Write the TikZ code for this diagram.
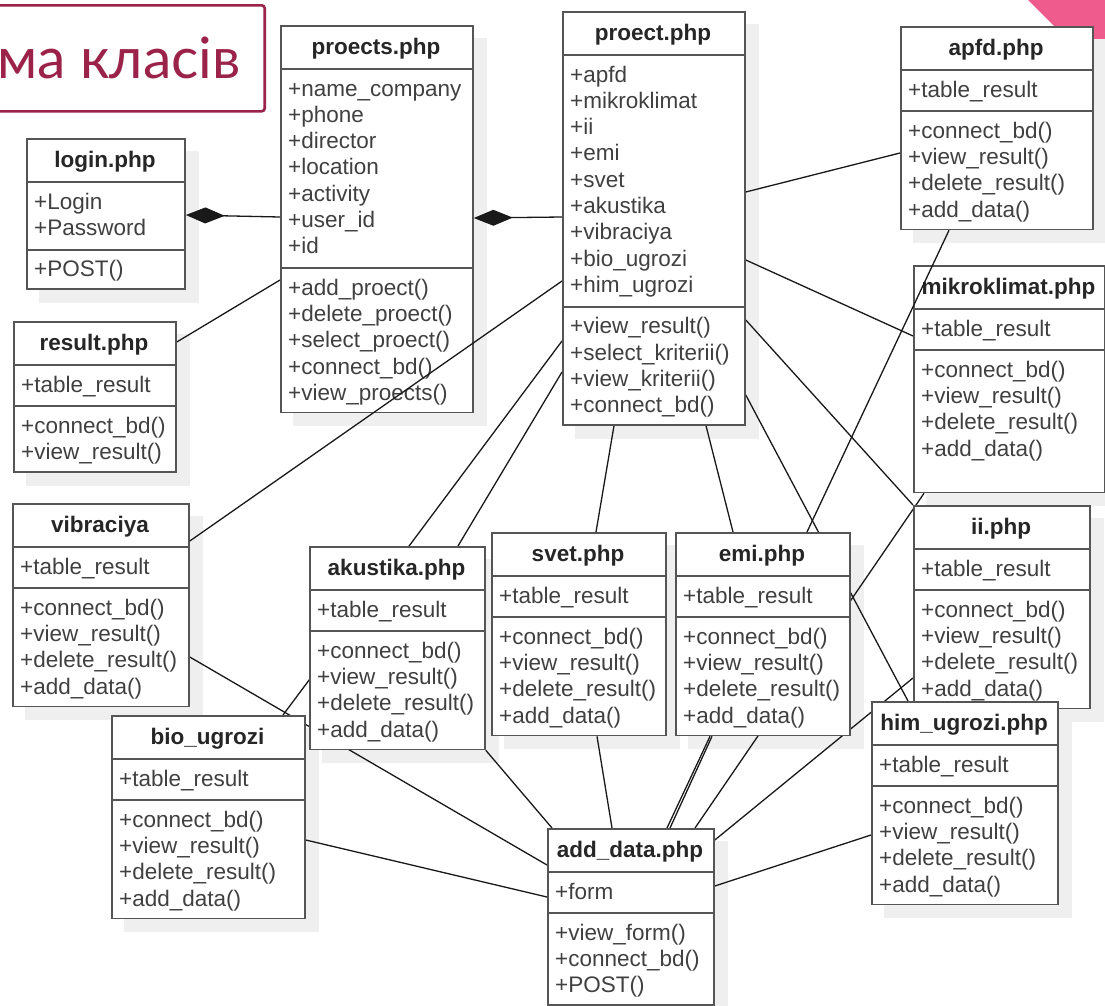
\documentclass[tikz,border=0pt]{standalone}
\usepackage{fontspec}
\setmainfont{Liberation Sans}
\newfontfamily\titlefont{Lato}
\usetikzlibrary{arrows.meta,calc}
\pgfdeclarelayer{back}
\pgfdeclarelayer{links}
\pgfsetlayers{back,links,main}
\definecolor{maroon}{HTML}{9B2349}
\definecolor{pinkc}{HTML}{EF5B8C}
\definecolor{boxc}{HTML}{555555}
\definecolor{txtc}{HTML}{404040}
\definecolor{shadowc}{HTML}{EFEFEF}
\tikzset{
  umlbox/.style={draw=boxc,line width=1.8pt,fill=white,inner sep=0pt},
  umlsep/.style={draw=boxc,line width=1.8pt},
  umltitle/.style={font=\bfseries\fontsize{22.5}{26}\selectfont,anchor=base,inner sep=0pt,text=black!85},
  umltext/.style={font=\fontsize{22.5}{26}\selectfont,anchor=base west,inner sep=0pt,text=txtc},
  link/.style={draw=black!90,line width=1.3pt},
  comp/.style={{Diamond[length=39pt,width=16pt]}-}
}
\newcommand\umlextra{0}
\newcommand\umlcls[9]{%
  \pgfmathsetmacro\sepA{#3+44}%
  \pgfmathsetmacro\sepB{\sepA+15+26.3*#6}%
  \pgfmathsetmacro\bot{\sepB+12+26.3*#8+\umlextra}%
  \pgfmathsetmacro\hh{\bot-#3}%
  \node[umlbox,minimum width=#4pt,minimum height=\hh pt,anchor=north west] (#1) at (#2,#3) {};
  \begin{pgfonlayer}{back}
    \fill[shadowc] ($(#1.north west)+(13,13)$) rectangle ($(#1.south east)+(13,13)$);
  \end{pgfonlayer}
  \draw[umlsep] (#2,\sepA) -- ++(#4,0);
  \draw[umlsep] (#2,\sepB) -- ++(#4,0);
  \node[umltitle] (#1-title) at ({#2+#4/2},{#3+29}) {#5};
  \foreach \itm [count=\i] in {#7} {\node[umltext] (#1-a\i) at ({#2+8},{\sepA+27+26.3*(\i-1)}) {\itm};}
  \foreach \itm [count=\i] in {#9} {\node[umltext] (#1-m\i) at ({#2+8},{\sepB+27+26.3*(\i-1)}) {\itm};}
}
\begin{document}
\begin{tikzpicture}[x=1pt,y=-1pt]
\useasboundingbox (0,0) rectangle (1105,1005);
\begin{pgfonlayer}{back}
  \fill[white] (0,0) rectangle (1105,1005);
  \fill[pinkc] (1028,0) -- (1105,0) -- (1105,77) -- cycle;
\end{pgfonlayer}

% title
\node[draw=maroon,line width=2.6pt,fill=white,rounded corners=3pt,minimum width=286pt,minimum height=106pt,anchor=north east,inner sep=0pt] (titlebox) at (266,4) {};
\node[font=\titlefont\fontsize{57}{62}\selectfont,text=maroon,anchor=base west,inner sep=0pt] (titletext) at (-3,78) {ма класів};

% classes
\umlcls{login}{26}{138}{158}{login.php}{2}{+Login,+Password}{1}{+POST()}
\umlcls{result}{13}{321}{162}{result.php}{1}{+table\_result}{2}{+connect\_bd(),+view\_result()}
\umlcls{proects}{280}{25}{192}{proects.php}{7}{+name\_company,+phone,+director,+location,+activity,+user\_id,+id}{5}{+add\_proect(),+delete\_proect(),+select\_proect(),+connect\_bd(),+view\_proects()}
\umlcls{proect}{562}{11}{182}{proect.php}{9}{+apfd,+mikroklimat,+ii,+emi,+svet,+akustika,+vibraciya,+bio\_ugrozi,+him\_ugrozi}{4}{+view\_result(),+select\_kriterii(),+view\_kriterii(),+connect\_bd()}
\umlcls{apfd}{900}{26}{192}{apfd.php}{1}{+table\_result}{4}{+connect\_bd(),+view\_result(),+delete\_result(),+add\_data()}
\renewcommand\umlextra{24}
\umlcls{mikro}{913}{265}{191}{mikroklimat.php}{1}{+table\_result}{4}{+connect\_bd(),+view\_result(),+delete\_result(),+add\_data()}
\renewcommand\umlextra{0}
\umlcls{ii}{913}{505}{176}{ii.php}{1}{+table\_result}{4}{+connect\_bd(),+view\_result(),+delete\_result(),+add\_data()}
\umlcls{vib}{12}{503}{176}{vibraciya}{1}{+table\_result}{4}{+connect\_bd(),+view\_result(),+delete\_result(),+add\_data()}
\umlcls{ak}{309}{546}{175}{akustika.php}{1}{+table\_result}{4}{+connect\_bd(),+view\_result(),+delete\_result(),+add\_data()}
\umlcls{svet}{491}{532}{174}{svet.php}{1}{+table\_result}{4}{+connect\_bd(),+view\_result(),+delete\_result(),+add\_data()}
\umlcls{emi}{675}{532}{174}{emi.php}{1}{+table\_result}{4}{+connect\_bd(),+view\_result(),+delete\_result(),+add\_data()}
\umlcls{bio}{111}{715}{193}{bio\_ugrozi}{1}{+table\_result}{4}{+connect\_bd(),+view\_result(),+delete\_result(),+add\_data()}
\umlcls{him}{871}{701}{186}{him\_ugrozi.php}{1}{+table\_result}{4}{+connect\_bd(),+view\_result(),+delete\_result(),+add\_data()}
\umlcls{add}{547}{828}{166}{add\_data.php}{1}{+form}{3}{+view\_form(),+connect\_bd(),+POST()}

% connectors drawn over boxes
\draw[link] ($(vib.north east)+(0,38)$) -- ($(proect.north west)+(0,270)$);
\draw[link] ($(apfd.south west)+(49,0)$) -- ($(emi.north west)+(132,0)$);

% connectors drawn behind boxes
\begin{pgfonlayer}{links}
  \draw[link,comp] ($(login.north east)+(0,77)$) -- ($(proects.north west)+(0,192)$);
  \draw[link,comp] ($(proects.north east)+(0,193)$) -- ($(proect.north west)+(0,206)$);
  \draw[link] ($(result.north east)+(0,21)$) -- ($(proects.north west)+(0,255)$);
  \draw[link] ($(proect.north west)+(0,330)$) -- ($(bio.north west)+(172,0)$);
  \draw[link] ($(proect.north west)+(0,361)$) -- ($(ak.north west)+(149,0)$);
  \draw[link] ($(proect.south west)+(52,0)$) -- ($(svet.north west)+(105,0)$);
  \draw[link] ($(proect.south west)+(144,0)$) -- ($(emi.north west)+(58,0)$);
  \draw[link] ($(proect.north east)+(0,384)$) -- ($(him.north west)+(37,0)$);
  \draw[link] ($(proect.north east)+(0,309)$) -- (ii.north west);
  \draw[link] ($(proect.north east)+(0,249)$) -- ($(mikro.north west)+(0,71)$);
  \draw[link] ($(proect.north east)+(0,181)$) -- ($(apfd.north west)+(0,127)$);
  \draw[link] ($(mikro.south west)+(11,0)$) -- ($(add.north west)+(148,0)$);
  \draw[link] ($(ii.north west)+(0,173)$) -- ($(add.north east)+(0,12)$);
  \draw[link] ($(him.north west)+(0,134)$) -- ($(add.north east)+(0,58)$);
  \draw[link] ($(vib.north east)+(0,154)$) -- ($(add.north west)+(0,37)$);
  \draw[link] (ak.south east) -- ($(add.north west)+(5,0)$);
  \draw[link] ($(bio.north east)+(0,125)$) -- ($(add.north west)+(0,69)$);
  \draw[link] ($(svet.south west)+(106,0)$) -- ($(add.north west)+(65,0)$);
  \draw[link] ($(emi.south west)+(37,0)$) -- ($(add.north west)+(123,0)$);
  \draw[link] ($(emi.south west)+(35,0)$) -- ($(add.north west)+(120,0)$);
\end{pgfonlayer}
\end{tikzpicture}
\end{document}
